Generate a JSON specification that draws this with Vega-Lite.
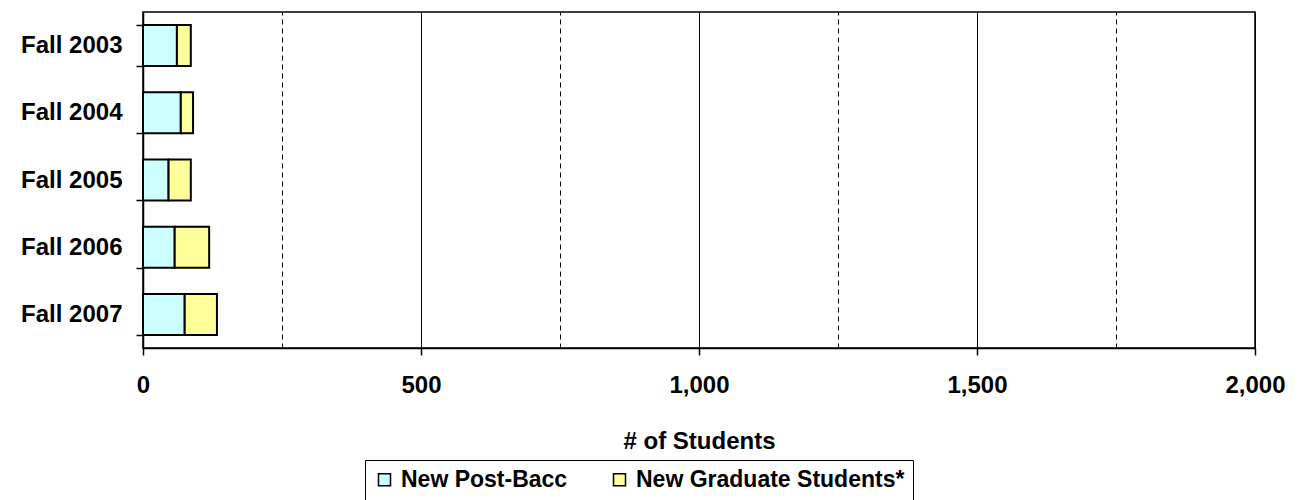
{
  "$schema": "https://vega.github.io/schema/vega-lite/v6.json",
  "autosize": {"type": "none"},
  "padding": {"left": 143, "top": 12, "right": 44, "bottom": 152},
  "width": 1112,
  "height": 336,
  "background": "white",
  "config": {
    "font": "Liberation Sans",
    "view": {"stroke": "#000", "strokeWidth": 1.5}
  },
  "data": {
    "values": [
      {"term": "Fall 2003", "series": "New Post-Bacc", "students": 61},
      {"term": "Fall 2003", "series": "New Graduate Students*", "students": 25},
      {"term": "Fall 2004", "series": "New Post-Bacc", "students": 68},
      {"term": "Fall 2004", "series": "New Graduate Students*", "students": 22},
      {"term": "Fall 2005", "series": "New Post-Bacc", "students": 46},
      {"term": "Fall 2005", "series": "New Graduate Students*", "students": 40},
      {"term": "Fall 2006", "series": "New Post-Bacc", "students": 57},
      {"term": "Fall 2006", "series": "New Graduate Students*", "students": 62},
      {"term": "Fall 2007", "series": "New Post-Bacc", "students": 75},
      {"term": "Fall 2007", "series": "New Graduate Students*", "students": 58}
    ]
  },
  "mark": {"type": "bar", "stroke": "#000", "strokeWidth": 2, "opacity": 1},
  "encoding": {
    "y": {
      "field": "term",
      "type": "nominal",
      "scale": {"paddingInner": 0.39, "paddingOuter": 0.195},
      "axis": {
        "title": null,
        "tickBand": "extent",
        "tickSize": 7,
        "tickColor": "#000",
        "tickWidth": 1.5,
        "domainColor": "#000",
        "domainWidth": 1.5,
        "labelFontSize": 24,
        "labelFontWeight": "bold",
        "labelColor": "#000",
        "labelPadding": 14,
        "labelLimit": 300,
        "grid": false
      }
    },
    "x": {
      "field": "students",
      "type": "quantitative",
      "stack": "zero",
      "scale": {"domain": [0, 2000], "nice": false},
      "axis": {
        "title": "# of Students",
        "titleFontSize": 24,
        "titleFontWeight": "bold",
        "titleColor": "#000",
        "titleBaseline": "alphabetic",
        "titleY": 100,
        "values": [0, 250, 500, 750, 1000, 1250, 1500, 1750, 2000],
        "labelExpr": "datum.value % 500 === 0 ? format(datum.value, ',') : ''",
        "labelFontSize": 24,
        "labelFontWeight": "bold",
        "labelColor": "#000",
        "labelPadding": 18,
        "labelFlush": false,
        "labelOverlap": false,
        "tickSize": 7,
        "tickColor": "#000",
        "tickWidth": 1.5,
        "tickOpacity": {"condition": {"test": "datum.value % 500 === 0", "value": 1}, "value": 0},
        "domainColor": "#000",
        "domainWidth": 1.5,
        "grid": true,
        "gridColor": "#000",
        "gridWidth": 1,
        "gridOpacity": 1,
        "gridDash": {"condition": {"test": "datum.value % 500 === 0", "value": []}, "value": [5, 4]}
      }
    },
    "color": {
      "field": "series",
      "type": "nominal",
      "scale": {
        "domain": ["New Post-Bacc", "New Graduate Students*"],
        "range": ["#CCFFFF", "#FFFF99"]
      },
      "legend": {
        "title": null,
        "orient": "none",
        "legendX": 222,
        "legendY": 448,
        "direction": "horizontal",
        "strokeColor": "#000",
        "fillColor": "#fff",
        "padding": 8,
        "symbolType": "square",
        "symbolSize": 144,
        "symbolStrokeColor": "#000",
        "symbolStrokeWidth": 1.5,
        "symbolOpacity": 1,
        "labelFontSize": 23,
        "labelFontWeight": "bold",
        "labelColor": "#000",
        "labelOffset": 5,
        "labelLimit": 500,
        "columnPadding": 40
      }
    },
    "order": {"field": "series", "sort": "descending"}
  }
}
